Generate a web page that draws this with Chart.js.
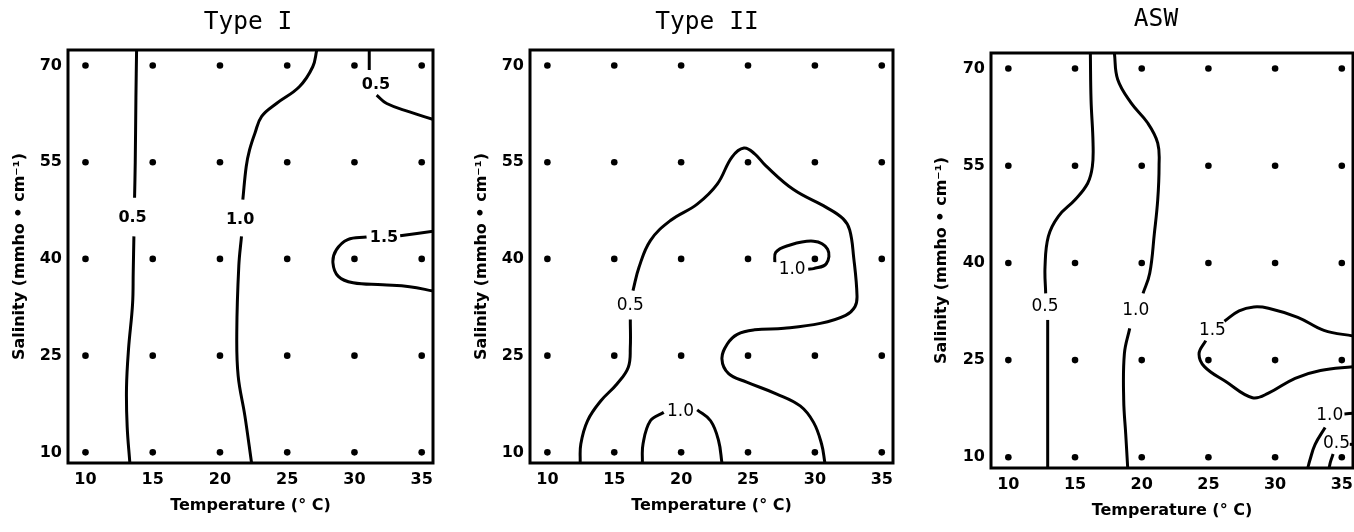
<!DOCTYPE html>
<html>
<head>
<meta charset="utf-8">
<script src="https://cdn.jsdelivr.net/npm/chart.js@4.4.1/dist/chart.umd.min.js"></script>
<style>
    html, body { margin: 0; padding: 0; background: #fff; width: 1354px; height: 532px; overflow: hidden; position: relative; }
    .panel { position: absolute; top: 0; height: 532px; }
</style>
</head>
<body>
<div class="panel" style="left:0;width:496px"><canvas id="chartTypeI"></canvas></div>
<div class="panel" style="left:460px;width:494px"><canvas id="chartTypeII"></canvas></div>
<div class="panel" style="left:920px;width:472px"><canvas id="chartASW"></canvas></div>
<script>
// 测点 (温度 x 盐度)
const temps = [10, 15, 20, 25, 30, 35];
const salinities = [10, 25, 40, 55, 70];

// Type I 等值线 [温度, 盐度]
const t1_05a_top = [[13.8, 72.4], [13.75, 65], [13.7, 55], [13.65, 49.5]];
const t1_05a_bot = [[13.6, 43.5], [13.55, 38], [13.5, 33], [13.2, 26], [13.05, 20], [13.1, 14], [13.3, 8.35]];
const t1_10_top = [[27.2, 72.4], [26.9, 69.8], [25.9, 66.7], [24.2, 64.1], [23.1, 62.1], [22.6, 59.5], [22.2, 56.9], [21.95, 54.3], [21.7, 49.2]];
const t1_10_bot = [[21.6, 43.5], [21.4, 38.9], [21.25, 28.6], [21.35, 21.9], [21.85, 15.7], [22.35, 8.35]];
const t1_05b_top = [[31.1, 72.4], [31.1, 69.3]];
const t1_05b_bot = [[31.65, 65.4], [32.4, 64.1], [34.1, 62.8], [35.9, 61.6]];
const t1_15_top = [[35.9, 44.3], [33.4, 43.6]];
const t1_15_bot = [[30.9, 43.4], [29.5, 43.0], [28.65, 41.4], [28.4, 39.4], [28.8, 37.3], [29.9, 36.3], [32.1, 36.0], [34.1, 35.7], [35.9, 35.0]];
const t1_labels = [['0.5', 13.5, 46.3], ['1.0', 21.5, 46.0], ['0.5', 31.6, 67.0], ['1.5', 32.2, 43.3]];

// Type II 等值线
const t2_05_a = [[12.45, 8.35], [12.5, 11.3], [13.0, 14.9], [14.0, 18.0], [15.2, 20.6], [16.05, 23.2], [16.2, 26.3], [16.2, 30.6]];
const t2_05_b = [[16.4, 35.1], [16.85, 38.7], [17.7, 42.85], [19.2, 45.95], [21.2, 48.5], [22.7, 51.6], [23.8, 55.8], [24.7, 57.2], [25.5, 56.3], [26.3, 54.5], [28.4, 50.75], [30.85, 48.0], [32.1, 46.25], [32.6, 44.5], [32.9, 40.25], [33.15, 34.25], [33.0, 32.6], [32.3, 31.25], [30.4, 30.0], [27.7, 29.25], [25.5, 29.0], [24.2, 28.3], [23.45, 26.8], [23.05, 24.5], [23.55, 22.2], [24.9, 20.9], [27.15, 19.05], [28.9, 17.2], [29.9, 14.65], [30.5, 11.3], [30.75, 8.35]];
const t2_10_loop = [[27.0, 39.5], [27.07, 41.0], [27.9, 42.0], [29.9, 42.75], [30.95, 41.5], [30.85, 39.25], [29.9, 38.5], [29.5, 38.4]];
const t2_10_a = [[17.1, 8.35], [17.15, 11.3], [17.7, 14.9], [18.7, 16.2]];
const t2_10_b = [[21.2, 16.6], [22.2, 14.9], [22.8, 11.8], [23.05, 8.35]];
const t2_labels = [['0.5', 16.2, 32.8], ['1.0', 28.3, 38.4], ['1.0', 19.95, 16.3]];

// ASW 等值线
const asw_05_top = [[16.15, 72.4], [16.2, 65.2], [16.35, 58.5], [16.3, 54.9], [15.95, 52.3], [15.0, 49.75], [13.75, 47.2], [13.0, 44.1], [12.75, 39.4], [12.8, 35.3]];
const asw_05_bot = [[12.95, 31.2], [12.95, 23.9], [12.95, 8.35]];
const asw_10_top = [[17.95, 72.4], [18.2, 68.3], [19.2, 64.7], [20.45, 61.6], [21.2, 58.5], [21.3, 54.9], [21.2, 49.75], [20.95, 44.6], [20.6, 38.4], [20.1, 35.3]];
const asw_10_bot = [[19.1, 29.9], [18.7, 26.0], [18.65, 18.8], [18.8, 13.6], [18.95, 8.35]];
const asw_15_top = [[26.2, 31.0], [27.3, 32.6], [28.4, 33.2], [29.5, 33.0], [31.7, 31.6], [33.66, 29.6], [35.9, 28.7]];
const asw_15_bot = [[24.8, 28.0], [24.3, 26.0], [24.7, 24.0], [26.3, 21.7], [28.3, 19.2], [29.5, 19.9], [31.5, 22.2], [33.4, 23.4], [35.9, 24.0]];
const asw_10c_a = [[35.2, 16.7], [35.9, 16.8]];
const asw_10c_b = [[33.75, 14.6], [33.0, 12.0], [32.6, 9.5], [32.45, 8.35]];
const asw_05c_a = [[35.6, 12.0], [35.9, 12.0]];
const asw_05c_b = [[34.35, 10.5], [34.15, 9.3], [34.05, 8.35]];
const asw_labels = [['0.5', 12.75, 33.2], ['1.0', 19.55, 32.6], ['1.5', 25.3, 29.6], ['1.0', 34.1, 16.4], ['0.5', 34.6, 12.1]];

const xMin = 8.7, xMax = 35.84, yMin = 8.35, yMax = 72.4;

function toPoints(arr) {
    return arr.map(p => ({x: p[0], y: p[1]}));
}

function gridDots() {
    const pts = [];
    temps.forEach(t => salinities.forEach(s => pts.push({x: t, y: s})));
    return pts;
}

// 边框
const framePlugin = {
    id: 'frame',
    afterDatasetsDraw(chart) {
        const a = chart.chartArea;
        const ctx = chart.ctx;
        ctx.save();
        ctx.strokeStyle = '#000';
        ctx.lineWidth = 3;
        ctx.strokeRect(a.left, a.top, a.right - a.left, a.bottom - a.top);
        ctx.restore();
    }
};

// 标题 (自己画，位置好控制)
const panelTitlePlugin = {
    id: 'panelTitle',
    afterDraw(chart, args, opts) {
        const ctx = chart.ctx;
        ctx.save();
        ctx.font = '24.5px "DejaVu Sans Mono"';
        ctx.fillStyle = '#000';
        ctx.textAlign = 'center';
        ctx.textBaseline = 'middle';
        ctx.fillText(opts.text, opts.x, opts.y);
        ctx.restore();
    }
};

// 等值线数值标注
const labelPlugin = {
    id: 'contourLabels',
    afterDatasetsDraw(chart, args, opts) {
        const ctx = chart.ctx;
        const xs = chart.scales.x, ys = chart.scales.y;
        ctx.save();
        ctx.font = opts.font;
        ctx.fillStyle = '#000';
        ctx.textAlign = 'center';
        ctx.textBaseline = 'middle';
        (opts.items || []).forEach(it => {
            ctx.fillText(it[0], xs.getPixelForValue(it[1]), ys.getPixelForValue(it[2]));
        });
        ctx.restore();
    }
};

function makePanel(id, title, lines, labels, cfg) {
    const datasets = lines.map(l => ({
        data: toPoints(l),
        showLine: true,
        borderColor: '#000',
        borderWidth: 3,
        pointRadius: 0,
        tension: 0.4,
        fill: false
    }));
    datasets.push({
        data: gridDots(),
        showLine: false,
        pointRadius: 3.3,
        backgroundColor: '#000',
        borderWidth: 0
    });

    const tickFont = {family: 'DejaVu Sans', size: 16, weight: 'bold'};
    const titleFont = {family: 'DejaVu Sans', size: 16, weight: 'bold'};

    new Chart(document.getElementById(id).getContext('2d'), {
        type: 'scatter',
        data: {datasets: datasets},
        options: {
            responsive: true,
            maintainAspectRatio: false,
            animation: false,
            events: [],
            layout: {padding: {left: 0, right: cfg.padRight, top: cfg.top, bottom: 0}},
            plugins: {
                legend: {display: false},
                tooltip: {enabled: false},
                title: {display: false},
                panelTitle: {text: title, x: cfg.titleX, y: cfg.titleY},
                contourLabels: {items: labels, font: cfg.labelFont}
            },
            scales: {
                x: {
                    type: 'linear',
                    min: xMin,
                    max: xMax,
                    grid: {display: false, drawTicks: false},
                    border: {display: false},
                    afterBuildTicks: s => { s.ticks = temps.map(v => ({value: v})); },
                    afterFit: s => { s.height = cfg.xHeight; },
                    ticks: {color: '#000', font: tickFont, padding: 7, maxRotation: 0, autoSkip: false},
                    title: {
                        display: true,
                        text: 'Temperature (° C)',
                        color: '#000',
                        font: titleFont,
                        padding: {top: 0, bottom: cfg.xTitleBottom}
                    }
                },
                y: {
                    type: 'linear',
                    min: yMin,
                    max: yMax,
                    grid: {display: false, drawTicks: false},
                    border: {display: false},
                    afterBuildTicks: s => { s.ticks = salinities.map(v => ({value: v})); },
                    afterFit: s => { s.width = cfg.yWidth; },
                    ticks: {color: '#000', font: tickFont, padding: 6, autoSkip: false},
                    title: {
                        display: true,
                        text: 'Salinity (mmho • cm⁻¹)',
                        color: '#000',
                        font: titleFont,
                        padding: {top: cfg.yTitleTop, bottom: 0}
                    }
                }
            }
        },
        plugins: [framePlugin, labelPlugin, panelTitlePlugin]
    });
}

makePanel('chartTypeI', 'Type I',
    [t1_05a_top, t1_05a_bot, t1_10_top, t1_10_bot, t1_05b_top, t1_05b_bot, t1_15_top, t1_15_bot],
    t1_labels,
    {padRight: 63, top: 50, titleX: 248, titleY: 23, xHeight: 69, xTitleBottom: 17, yWidth: 68, yTitleTop: 10, labelFont: 'bold 16px "DejaVu Sans"'});

makePanel('chartTypeII', 'Type II',
    [t2_05_a, t2_05_b, t2_10_loop, t2_10_a, t2_10_b],
    t2_labels,
    {padRight: 61, top: 50, titleX: 247, titleY: 22.5, xHeight: 69, xTitleBottom: 17, yWidth: 70, yTitleTop: 12, labelFont: '17px "DejaVu Sans"'});

makePanel('chartASW', 'ASW',
    [asw_05_top, asw_05_bot, asw_10_top, asw_10_bot, asw_15_top, asw_15_bot, asw_10c_a, asw_10c_b, asw_05c_a, asw_05c_b],
    asw_labels,
    {padRight: 39, top: 53, titleX: 236, titleY: 20, xHeight: 64, xTitleBottom: 12, yWidth: 71, yTitleTop: 12, labelFont: '17px "DejaVu Sans"'});
</script>
</body>
</html>
